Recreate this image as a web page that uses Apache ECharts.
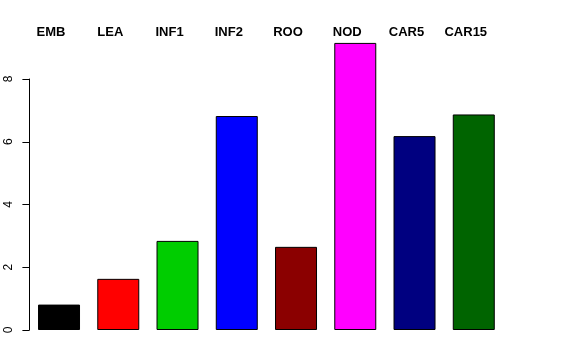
<!DOCTYPE html>
<html>
<head>
<meta charset="utf-8">
<script src="https://cdn.jsdelivr.net/npm/echarts@6/dist/echarts.min.js"></script>
<style>html,body{margin:0;padding:0;background:#fff}#c{width:576px;height:360px}</style>
</head>
<body>
<div id="c"></div>
<script>
const categories = ["EMB", "LEA", "INF1", "INF2", "ROO", "NOD", "CAR5", "CAR15"];
const values = [0.81, 1.63, 2.84, 6.82, 2.65, 9.15, 6.18, 6.87];
const barColors = ["#000000", "#FF0000", "#00CD00", "#0000FF", "#8B0000", "#FF00FF", "#000080", "#006400"];
const yTicks = [0, 2, 4, 6, 8];

const chart = echarts.init(document.getElementById('c'), null, {renderer: 'canvas'});
chart.setOption({
  animation: false,
  backgroundColor: '#ffffff',
  grid: {left: 29.4, right: 72.6, top: 79, bottom: 30, containLabel: false},
  xAxis: [{
    type: 'category',
    data: categories,
    position: 'top',
    axisLine: {show: false},
    axisTick: {show: false},
    axisLabel: {
      show: true, margin: 40, fontFamily: 'Liberation Sans, Arial, sans-serif',
      fontWeight: 'bold', fontSize: 13, color: '#000', padding: [0, 16, 0, 0],
      interval: 0
    }
  }],
  yAxis: {
    type: 'value', min: yTicks[0], max: yTicks[yTicks.length - 1], interval: 2,
    splitLine: {show: false},
    axisLine: {show: true, lineStyle: {color: '#000', width: 1}},
    axisTick: {show: true, length: 7, lineStyle: {color: '#000'}},
    axisLabel: {rotate: 90, margin: 15, fontFamily: 'Liberation Sans, Arial, sans-serif', fontSize: 12, color: '#000'}
  },
  series: [{
    type: 'bar',
    clip: false,
    barWidth: 42,
    data: values.map((v, i) => ({value: v, itemStyle: {color: barColors[i]}})),
    itemStyle: {borderColor: '#000', borderWidth: 1}
  }]
});
</script>
</body>
</html>
